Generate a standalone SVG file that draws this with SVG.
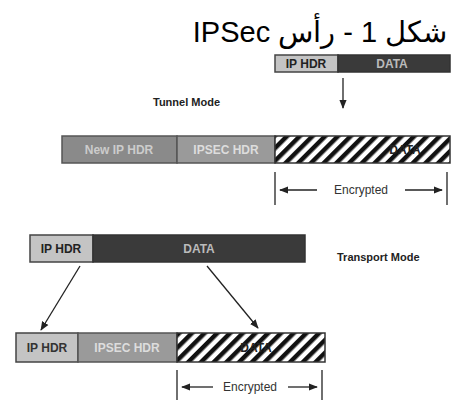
<svg xmlns="http://www.w3.org/2000/svg" width="474" height="401" viewBox="0 0 474 401">
<style>
.t{font-family:"Liberation Sans","Noto Sans",sans-serif}
.title{font-size:29px;fill:#000}
.mode{font-size:11px;font-weight:bold;fill:#222}
.lab{font-size:12px;font-weight:bold;text-anchor:middle;dominant-baseline:central}
.hdr{fill:#c4c4c4;stroke:#444;stroke-width:1.5}
.dat{fill:#3a3a3a;stroke:#333;stroke-width:1.5}
.mid{fill:#8a8a8a;stroke:#555;stroke-width:1.5}
.mid2{fill:#9a9a9a;stroke:#555;stroke-width:1.5}
.enc{fill:url(#hatch);stroke:#333;stroke-width:1.5}
.ln{stroke:#222;stroke-width:1.3;fill:none}
.enct{font-size:12px;fill:#333;text-anchor:middle;dominant-baseline:central}
</style>
<defs>
<pattern id="hatch" patternUnits="userSpaceOnUse" width="9" height="9" patternTransform="rotate(45)">
<rect width="9" height="9" fill="#fff"/>
<rect width="4.5" height="9" fill="#111"/>
</pattern>
<marker id="ah" viewBox="0 0 10 10" refX="9" refY="5" markerWidth="7" markerHeight="7" orient="auto-start-reverse">
<path d="M0,1 L10,5 L0,9 Z" fill="#222"/>
</marker>
</defs>
<text class="t title" x="320" y="42" text-anchor="middle" direction="rtl" unicode-bidi="embed">شكل 1 - رأس IPSec</text>

<g id="orig-tunnel">
<rect class="hdr" x="275" y="55" width="63" height="17"/>
<rect class="dat" x="338" y="55" width="112" height="17"/>
<text class="t lab" x="306" y="64" fill="#222">IP HDR</text>
<text class="t lab" x="392" y="64" fill="#bbb">DATA</text>
</g>
<text class="t mode" x="153" y="106">Tunnel Mode</text>

<g id="tunnel-packet">
<rect class="mid" x="62" y="136" width="115" height="27"/>
<rect class="mid2" x="177" y="136" width="98" height="27"/>
<rect class="enc" x="275" y="136" width="175" height="27"/>
<text class="t lab" x="119" y="150" fill="#ccc">New IP HDR</text>
<text class="t lab" x="226" y="150" fill="#ddd">IPSEC HDR</text>
<text class="t lab" x="405" y="150" fill="#222">DATA</text>
</g>

<g id="tunnel-enc">
<line class="ln" x1="275" y1="172" x2="275" y2="205"/>
<line class="ln" x1="447" y1="172" x2="447" y2="205"/>
<text class="t enct" x="361" y="190">Encrypted</text>
</g>

<g id="orig-transport">
<rect class="hdr" x="30" y="235" width="63" height="27"/>
<rect class="dat" x="93" y="235" width="212" height="27"/>
<text class="t lab" x="61" y="249" fill="#222">IP HDR</text>
<text class="t lab" x="199" y="249" fill="#bbb">DATA</text>
</g>
<text class="t mode" x="337" y="261">Transport Mode</text>

<g id="transport-packet">
<rect class="hdr" x="16" y="333" width="62" height="29"/>
<rect class="mid2" x="78" y="333" width="99" height="29"/>
<rect class="enc" x="177" y="333" width="148" height="29"/>
<text class="t lab" x="47" y="348" fill="#333">IP HDR</text>
<text class="t lab" x="127" y="348" fill="#ddd">IPSEC HDR</text>
<text class="t lab" x="256" y="348" fill="#222">DATA</text>
</g>

<g id="transport-enc">
<line class="ln" x1="177" y1="370" x2="177" y2="400"/>
<line class="ln" x1="322" y1="370" x2="322" y2="400"/>
<text class="t enct" x="250" y="387">Encrypted</text>
</g>

<g id="connectors">
<line class="ln" x1="343" y1="78" x2="343" y2="108" marker-end="url(#ah)"/>
<line class="ln" x1="317" y1="190" x2="280" y2="190" marker-end="url(#ah)"/>
<line class="ln" x1="405" y1="190" x2="442" y2="190" marker-end="url(#ah)"/>
<line class="ln" x1="80" y1="266" x2="41" y2="330" marker-end="url(#ah)"/>
<line class="ln" x1="207" y1="266" x2="258" y2="328" marker-end="url(#ah)"/>
<line class="ln" x1="213" y1="387" x2="182" y2="387" marker-end="url(#ah)"/>
<line class="ln" x1="288" y1="387" x2="317" y2="387" marker-end="url(#ah)"/>
</g>
</svg>
